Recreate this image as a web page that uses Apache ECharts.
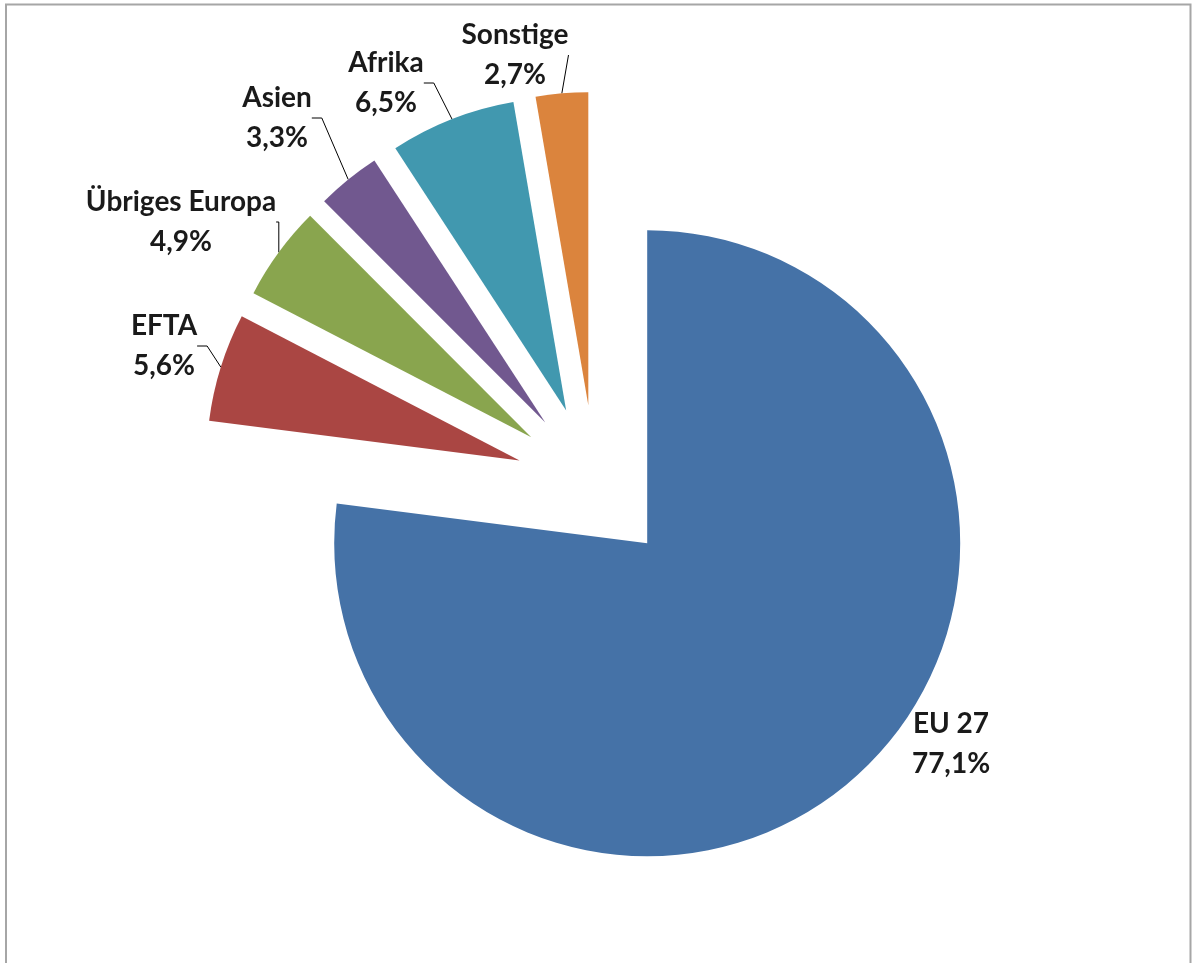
<!DOCTYPE html>
<html>
<head>
<meta charset="utf-8">
<script src="https://cdn.jsdelivr.net/npm/echarts@6/dist/echarts.min.js"></script>
<style>
  html, body { margin: 0; padding: 0; background: #fff; }
  #chart { width: 1192px; height: 963px; }
</style>
</head>
<body>
<div id="chart"></div>
<script>
// Anteile in Prozent, im Uhrzeigersinn ab 12 Uhr
var regionen = ['EU 27', 'EFTA', 'Übriges Europa', 'Asien', 'Afrika', 'Sonstige'];
var anteile = [77.1, 5.6, 4.9, 3.3, 6.5, 2.7];
var farben = ['#4572A7', '#AA4643', '#89A54E', '#71588F', '#4198AF', '#DB843D'];

// Lage der Beschriftungen (Mitte des Textblocks)
var labelPos = [[951, 744], [164, 346], [181, 222], [277, 118], [386, 83], [515, 55]];

var mitte = [595, 484];
var radius = 313;
var explosion = 79;

// jedes Segment als eigene Serie, um die Explosion entlang der Winkelhalbierenden zu zeichnen
var summe = 0;
for (var k = 0; k < anteile.length; k++) summe += anteile[k];

var series = [];
var kum = 0;
for (var i = 0; i < regionen.length; i++) {
    var winkel = (kum + anteile[i] / 2) / summe * 2 * Math.PI;
    kum += anteile[i];
    var data = [];
    for (var j = 0; j < regionen.length; j++) {
        data.push({
            name: regionen[j],
            value: anteile[j],
            itemStyle: { color: j === i ? farben[j] : 'rgba(0,0,0,0)' },
            label: { show: j === i },
            labelLine: { show: j === i && i > 0 }
        });
    }
    series.push({
        type: 'pie',
        center: [mitte[0] + explosion * Math.sin(winkel), mitte[1] - explosion * Math.cos(winkel)],
        radius: radius,
        startAngle: 90,
        clockwise: true,
        avoidLabelOverlap: false,
        silent: true,
        data: data,
        label: {
            position: 'outside',
            fontFamily: 'Lato',
            fontWeight: 'bold',
            fontSize: 28,
            lineHeight: 40,
            color: '#1a1a1a',
            align: 'center',
            formatter: function (p) {
                return p.name + '\n' + p.value.toFixed(1).replace('.', ',') + '%';
            }
        },
        labelLine: {
            length: 10,
            length2: 10,
            lineStyle: { color: '#000', width: 1 }
        },
        labelLayout: function (params) {
            var pos = labelPos[params.dataIndex];
            return {
                x: pos[0],
                y: pos[1],
                align: 'center',
                verticalAlign: 'middle'
            };
        }
    });
}

var myChart = echarts.init(document.getElementById('chart'));
myChart.setOption({
    animation: false,
    backgroundColor: '#fff',
    graphic: [{
        type: 'polyline',
        shape: { points: [[6, 963], [6, 4.5], [1190.5, 4.5], [1190.5, 963]] },
        style: { stroke: '#a6a6a6', lineWidth: 2, fill: null }
    }],
    series: series
});
</script>
</body>
</html>
